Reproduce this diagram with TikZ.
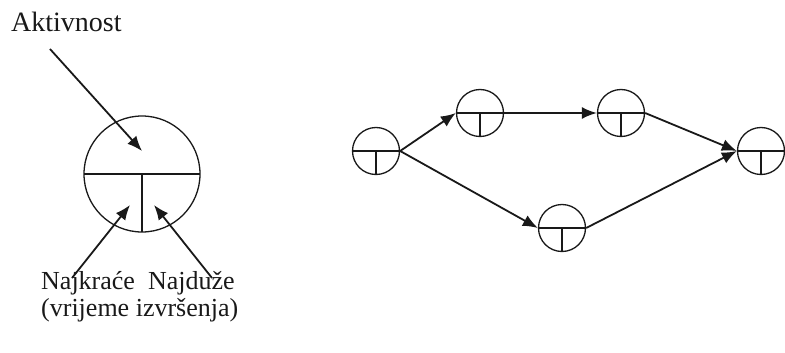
\documentclass[tikz,border=0pt]{standalone}
\usepackage{fontspec}
\setmainfont{Liberation Serif}
\usetikzlibrary{arrows.meta,positioning}

\tikzset{
  cvor/.style={circle, draw, line width=1.3pt, inner sep=0pt, minimum size=#1,
    path picture={
      \draw[line width=1.3pt] (path picture bounding box.west) -- (path picture bounding box.east);
      \draw[line width=1.3pt] (path picture bounding box.center) -- (path picture bounding box.south);
    }},
  cvor/.default=47pt,
  strel/.style={line width=1.8pt, -{Latex[length=15pt,width=12pt]}},
}

\begin{document}
\begin{tikzpicture}[x=1pt, y=-1pt, color={black!90}, font=\fontsize{26}{27}\selectfont]
        \useasboundingbox (0,0) rectangle (785,353);

        % legenda
        \node[cvor=116pt] (veliki) at (142,174) {};
        \node[anchor=base west, inner sep=0pt, font=\fontsize{28}{27}\selectfont] (akt) at (11,32) {Aktivnost};
        \node[anchor=base west, inner sep=0pt, align=left] (vrijeme) at (41,316)
                {Najkraće\ \ Najduže\\(vrijeme izvršenja)};
        \coordinate (a1) at (50,49);
        \coordinate (a2) at (142,151);
        \coordinate (b1) at (72,278);
        \coordinate (b2) at (130,205);
        \coordinate (c1) at (212,278);
        \coordinate (c2) at (154,205);
        \draw[strel] (a1) -- (a2);
        \draw[strel] (b1) -- (b2);
        \draw[strel] (c1) -- (c2);

        % mreza
        \node[cvor] (n1) at (376,151) {};
        \node[cvor] (n2) at (480,113) {};
        \node[cvor] (n3) at (621,113) {};
        \node[cvor] (n4) at (761,151) {};
        \node[cvor] (n5) at (562,228) {};

        \draw[strel] (n1.east) -- (n2.west);
        \draw[strel] (n2.east) -- (n3.west);
        \draw[strel] (n3.east) -- (n4.west);
        \draw[strel] (n1.east) -- (n5.west);
        \draw[strel] (n5.east) -- (n4.west);
\end{tikzpicture}
\end{document}
